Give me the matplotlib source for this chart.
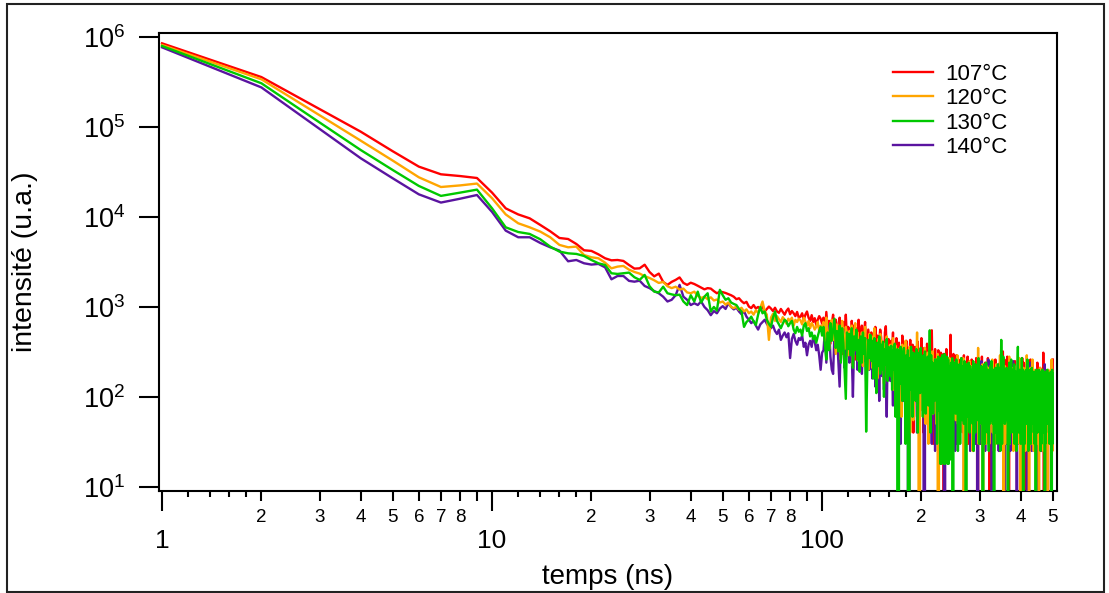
import numpy as np
import matplotlib
matplotlib.use("Agg")
import matplotlib.pyplot as plt
from matplotlib.ticker import FixedLocator, NullLocator, FuncFormatter, LogLocator, LogFormatterSciNotation
from matplotlib.patches import Rectangle

plt.rcParams['font.family'] = ['Liberation Sans', 'DejaVu Sans']
plt.rcParams['mathtext.fontset'] = 'custom'
plt.rcParams['mathtext.rm'] = 'Liberation Sans'
plt.rcParams['mathtext.it'] = 'Liberation Sans:italic'

# ---------------- data ----------------
temps_ns = np.arange(1, 501)
series_labels = ['107°C', '120°C', '130°C', '140°C']

i_107 = [
    857000, 361000, 159000, 89100, 54000, 36400, 29900, 28600, 27200, 18700,
    12500, 10700, 9680, 8170, 6950, 5850, 5700, 5020, 4270, 4200,
    3850, 3480, 3300, 3330, 3250, 2930, 2670, 2690, 2950, 2450,
    2190, 2350, 1900, 1760, 1900, 2000, 2130, 1850, 1760, 1860,
    1800, 1720, 1640, 1570, 1620, 1600, 1500, 1420, 1480, 1460,
    1430, 1390, 1350, 1300, 1220, 1250, 1160, 1100, 1140, 1010,
    970, 1050, 960, 1000, 940, 1020, 890, 950, 1010, 960,
    900, 980, 890, 860, 950, 880, 820, 905, 960, 830,
    900, 850, 790, 880, 760, 780, 850, 720, 820, 890,
    760, 700, 810, 680, 750, 630, 720, 790, 740, 650,
    760, 480, 880, 560, 700, 390, 660, 820, 450, 720,
    620, 380, 760, 540, 300, 680, 470, 820, 420, 600,
    540, 330, 700, 450, 620, 260, 580, 400, 720, 480,
    360, 620, 290, 520, 680, 380, 240, 560, 430, 330,
    520, 280, 450, 220, 600, 350, 480, 190, 410, 560,
    460, 240, 390, 170, 520, 610, 300, 210, 440, 350,
    230, 420, 290, 520, 150, 360, 250, 450, 120, 380,
    400, 180, 330, 110, 480, 230, 360, 90, 300, 420,
    170, 350, 70, 290, 430, 200, 120, 380, 40, 310,
    360, 150, 270, 60, 410, 190, 320, 100, 250, 450,
    130, 300, 40, 350, 220, 290, 80, 390, 240, 65,
    310, 120, 260, 60, 550, 180, 30, 300, 150, 340,
    100, 280, 65, 230, 330, 120, 260, 50, 310, 190,
    250, 70, 300, 0, 160, 280, 90, 340, 50, 210,
    270, 80, 230, 30, 490, 130, 240, 55, 200, 300,
    60, 250, 170, 40, 290, 110, 220, 65, 260, 150,
    240, 60, 190, 55, 270, 120, 210, 40, 290, 80,
    200, 0, 230, 70, 160, 280, 30, 180, 90, 250,
    50, 210, 65, 260, 110, 190, 25, 230, 140, 60,
    220, 80, 270, 30, 170, 0, 200, 100, 240, 40,
    180, 30, 230, 90, 280, 50, 190, 55, 140, 220,
    70, 240, 40, 170, 65, 220, 110, 270, 40, 160,
    210, 0, 130, 60, 230, 30, 180, 100, 55, 190,
    50, 220, 120, 65, 260, 80, 190, 55, 150, 60,
    180, 40, 230, 100, 25, 190, 60, 250, 65, 140,
    200, 50, 320, 65, 210, 80, 260, 30, 160, 55,
    110, 190, 40, 280, 65, 160, 70, 0, 200, 90,
    40, 180, 100, 240, 55, 150, 60, 220, 30, 170,
    190, 65, 120, 250, 60, 40, 160, 25, 180, 70,
    150, 40, 210, 55, 120, 230, 30, 160, 70, 65,
    170, 80, 55, 270, 60, 150, 30, 240, 100, 65,
    60, 190, 110, 0, 170, 40, 230, 80, 65, 150,
    200, 30, 100, 180, 25, 140, 50, 260, 70, 160,
    65, 150, 80, 230, 40, 120, 65, 180, 90, 40,
    160, 60, 190, 55, 110, 0, 150, 50, 240, 30,
    130, 180, 40, 100, 55, 170, 70, 210, 65, 80,
    150, 25, 100, 190, 50, 140, 65, 310, 70, 0,
    90, 170, 30, 200, 50, 120, 55, 150, 60, 180,
    40, 140, 25, 90, 190, 65, 110, 50, 170, 55,
    120, 190, 40, 150, 0, 80, 180, 30, 130, 260,
]

i_120 = [
    820000, 341000, 136000, 70800, 42500, 27700, 21600, 22500, 23600, 16200,
    10700, 8530, 7690, 6890, 5960, 4900, 4610, 4690, 3780, 3570,
    3480, 3110, 2690, 2810, 2860, 2600, 2450, 2350, 2200, 2100,
    1980, 1850, 1900, 1700, 1620, 1680, 1560, 1600, 1450, 1420,
    1480, 1330, 1260, 1300, 1220, 1280, 1180, 1210, 1120, 1150,
    1060, 1120, 1000, 970, 1010, 930, 980, 890, 940, 850,
    890, 820, 920, 860, 980, 1150, 900, 820, 430, 760,
    840, 700, 790, 730, 680, 770, 720, 650, 740, 700,
    760, 620, 720, 680, 740, 710, 640, 760, 690, 620,
    700, 580, 660, 620, 560, 600, 680, 540, 620, 580,
    680, 420, 760, 520, 340, 640, 720, 430, 580, 300,
    640, 380, 560, 260, 700, 450, 340, 600, 500, 290,
    540, 300, 620, 220, 480, 660, 330, 520, 250, 430,
    330, 520, 220, 460, 600, 280, 420, 200, 500, 370,
    470, 210, 400, 580, 240, 360, 160, 440, 300, 500,
    230, 420, 290, 140, 390, 250, 470, 170, 360, 280,
    380, 170, 320, 450, 120, 290, 370, 80, 330, 220,
    160, 350, 220, 60, 380, 260, 140, 330, 420, 110,
    320, 100, 250, 360, 40, 210, 140, 310, 55, 240,
    120, 300, 190, 520, 80, 260, 0, 200, 340, 130,
    280, 70, 240, 160, 350, 50, 220, 120, 310, 30,
    110, 270, 50, 240, 150, 320, 65, 200, 100, 260,
    240, 50, 190, 300, 0, 160, 90, 270, 30, 210,
    110, 250, 40, 200, 290, 70, 180, 55, 230, 120,
    220, 60, 270, 130, 65, 190, 250, 25, 110, 210,
    80, 240, 150, 55, 210, 110, 290, 50, 190, 90,
    200, 40, 160, 250, 65, 140, 70, 270, 0, 180,
    60, 220, 130, 30, 230, 90, 190, 55, 160, 250,
    170, 65, 130, 220, 50, 25, 200, 80, 150, 65,
    210, 60, 150, 55, 190, 80, 350, 30, 140, 50,
    140, 210, 65, 160, 60, 230, 0, 180, 80, 40,
    190, 50, 140, 30, 220, 70, 160, 65, 120, 210,
    30, 180, 90, 220, 55, 130, 50, 260, 40, 150,
    170, 25, 120, 200, 70, 30, 230, 90, 55, 180,
    50, 210, 65, 140, 80, 290, 55, 130, 40, 180,
    150, 65, 200, 70, 0, 170, 50, 220, 30, 130,
    210, 40, 130, 55, 180, 70, 65, 150, 280, 30,
    90, 190, 55, 130, 50, 210, 65, 160, 70, 25,
    170, 50, 220, 65, 100, 150, 65, 190, 40, 130,
    30, 200, 80, 160, 55, 270, 50, 140, 0, 170,
    100, 65, 190, 60, 30, 160, 70, 210, 65, 130,
    180, 40, 25, 200, 90, 30, 290, 55, 160, 70,
    65, 140, 190, 0, 80, 170, 40, 210, 55, 110,
    160, 30, 100, 260, 55, 60, 180, 25, 130, 40,
    90, 200, 55, 140, 50, 190, 65, 110, 160, 30,
    190, 65, 80, 0, 140, 60, 210, 55, 120, 50,
    40, 160, 60, 200, 30, 100, 25, 180, 50, 150,
    120, 55, 190, 70, 65, 150, 30, 170, 80, 55,
    160, 50, 0, 120, 200, 65, 90, 30, 160, 60,
    30, 180, 80, 55, 150, 260, 65, 120, 25, 190,
]

i_130 = [
    800000, 308000, 113000, 55700, 33400, 22200, 17200, 18700, 20200, 12500,
    7690, 6820, 6490, 5660, 4690, 4130, 3950, 3890, 3690, 3330,
    3060, 2930, 2370, 2330, 2370, 2410, 2140, 2000, 2270, 1700,
    1480, 1450, 1680, 1420, 1380, 1350, 1370, 1150, 1050, 1350,
    1150, 1480, 1120, 1300, 1420, 890, 1000, 910, 1550, 1350,
    1200, 1250, 1120, 1080, 1050, 950, 890, 600, 680, 720,
    780, 690, 630, 820, 1000, 850, 890, 720, 650, 600,
    760, 890, 700, 640, 580, 650, 720, 690, 610, 660,
    700, 560, 510, 600, 530, 560, 480, 620, 660, 540,
    580, 470, 520, 440, 480, 400, 470, 540, 600, 480,
    600, 380, 260, 520, 330, 660, 420, 560, 740, 350,
    540, 320, 620, 240, 580, 400, 200, 95, 520, 340,
    500, 290, 580, 210, 470, 330, 560, 260, 430, 190,
    470, 240, 520, 300, 450, 41, 180, 430, 270, 490,
    250, 420, 160, 450, 290, 110, 400, 220, 470, 180,
    380, 200, 410, 100, 340, 230, 440, 150, 360, 210,
    170, 370, 120, 330, 200, 390, 60, 300, 340, 0,
    330, 140, 360, 190, 90, 310, 350, 160, 30, 290,
    140, 330, 0, 270, 120, 360, 180, 60, 310, 150,
    290, 90, 340, 140, 40, 270, 310, 110, 350, 130,
    260, 60, 290, 130, 320, 65, 250, 110, 280, 80,
    120, 550, 40, 290, 70, 240, 65, 230, 90, 260,
    100, 260, 30, 230, 280, 70, 240, 18, 270, 18,
    290, 19, 250, 18, 300, 18, 230, 19, 280, 18,
    260, 18, 220, 20, 100, 240, 60, 270, 0, 220,
    80, 240, 110, 65, 260, 90, 230, 25, 200, 60,
    230, 30, 190, 270, 70, 55, 220, 100, 50, 250,
    80, 210, 0, 230, 60, 180, 65, 240, 90, 40,
    220, 70, 190, 55, 200, 50, 250, 25, 90, 200,
    40, 230, 70, 180, 55, 210, 60, 270, 30, 170,
    200, 55, 90, 220, 50, 160, 0, 210, 70, 230,
    30, 190, 60, 240, 65, 180, 40, 200, 80, 25,
    190, 50, 220, 65, 160, 250, 55, 170, 50, 200,
    70, 0, 190, 40, 210, 60, 55, 200, 90, 30,
    230, 50, 170, 65, 210, 70, 25, 190, 430, 220,
    30, 180, 60, 280, 55, 160, 200, 50, 55, 190,
    70, 210, 65, 170, 50, 0, 200, 60, 240, 30,
    180, 55, 160, 260, 40, 150, 55, 200, 50, 190,
    60, 230, 30, 160, 55, 190, 50, 25, 170, 70,
    210, 360, 70, 190, 40, 55, 200, 60, 160, 30,
    180, 50, 270, 55, 150, 200, 0, 160, 40, 190,
    30, 170, 60, 55, 200, 50, 160, 65, 260, 70,
    160, 25, 190, 40, 150, 55, 200, 60, 30, 170,
    50, 210, 65, 160, 70, 55, 190, 40, 150, 30,
    190, 50, 160, 0, 60, 200, 65, 150, 40, 180,
    55, 160, 50, 200, 55, 150, 40, 190, 25, 140,
    180, 30, 150, 55, 200, 50, 160, 55, 60, 190,
    40, 170, 0, 150, 30, 190, 60, 55, 180, 50,
    200, 65, 150, 50, 55, 180, 40, 160, 30, 140,
    150, 55, 190, 50, 160, 0, 60, 200, 30, 180,
]

i_140 = [
    773000, 277000, 95700, 45100, 27000, 17900, 14500, 16000, 17600, 11400,
    7060, 5960, 5960, 5150, 4610, 4240, 3220, 3330, 3060, 2960,
    3010, 2760, 2030, 2210, 2210, 1950, 1910, 1960, 1710, 1620,
    1500, 1420, 1300, 1150, 1200, 1350, 1760, 1300, 1200, 1050,
    1100, 1050, 1150, 1000, 920, 810, 900, 850, 960, 1020,
    950, 1100, 1000, 940, 980, 890, 830, 900, 780, 720,
    660, 700, 620, 560, 640, 680, 720, 650, 600, 580,
    620, 540, 500, 560, 430, 480, 520, 460, 510, 270,
    440, 500, 420, 380, 450, 430, 480, 360, 400, 290,
    380, 420, 360, 470, 410, 330, 380, 290, 200, 310,
    330, 560, 240, 450, 620, 280, 200, 180, 520, 390,
    480, 250, 130, 440, 330, 540, 210, 420, 290, 470,
    240, 450, 300, 100, 410, 300, 500, 200, 380, 260,
    430, 180, 360, 250, 450, 150, 330, 400, 200, 310,
    380, 160, 280, 400, 130, 350, 210, 310, 90, 360,
    330, 170, 370, 120, 300, 200, 60, 320, 220, 350,
    150, 310, 210, 80, 330, 170, 270, 130, 320, 190,
    300, 120, 30, 260, 160, 320, 90, 280, 150, 240,
    130, 270, 0, 240, 140, 310, 60, 250, 170, 100,
    270, 90, 230, 40, 260, 140, 290, 70, 210, 250,
    110, 250, 140, 0, 230, 90, 270, 120, 50, 240,
    220, 70, 250, 120, 30, 210, 260, 90, 190, 25,
    230, 100, 60, 240, 130, 65, 210, 90, 250, 110,
    80, 220, 40, 190, 0, 120, 230, 70, 180, 65,
    210, 90, 240, 50, 170, 55, 190, 80, 220, 100,
    60, 200, 25, 170, 80, 220, 30, 160, 210, 70,
    190, 40, 160, 55, 200, 80, 170, 50, 230, 0,
    150, 200, 40, 160, 70, 210, 65, 170, 60, 140,
    25, 180, 70, 200, 40, 150, 55, 190, 60, 160,
    140, 30, 190, 60, 210, 0, 150, 50, 180, 70,
    30, 170, 60, 250, 55, 150, 70, 180, 40, 140,
    170, 25, 130, 50, 190, 65, 150, 60, 260, 30,
    70, 180, 65, 150, 50, 200, 0, 140, 170, 40,
    160, 30, 190, 60, 55, 170, 70, 40, 180, 65,
    140, 50, 25, 170, 60, 240, 30, 130, 55, 160,
    60, 180, 40, 150, 65, 200, 50, 0, 160, 70,
    30, 170, 70, 55, 180, 50, 150, 65, 190, 60,
    160, 25, 130, 40, 180, 65, 150, 60, 250, 30,
    70, 170, 55, 150, 50, 190, 65, 130, 0, 160,
    40, 150, 180, 65, 130, 30, 170, 55, 60, 160,
    150, 65, 120, 180, 25, 140, 40, 160, 55, 170,
    50, 150, 55, 130, 230, 30, 140, 0, 160, 40,
    170, 65, 140, 50, 55, 160, 40, 240, 60, 65,
    140, 25, 160, 30, 130, 180, 55, 150, 40, 60,
    160, 30, 55, 140, 50, 170, 65, 130, 0, 150,
    40, 180, 55, 140, 60, 55, 160, 30, 150, 50,
    65, 150, 50, 25, 170, 40, 140, 55, 160, 60,
    140, 30, 230, 55, 50, 150, 0, 130, 160, 65,
    150, 40, 55, 170, 60, 30, 140, 55, 50, 160,
    60, 170, 65, 140, 0, 150, 40, 160, 55, 130,
]

x_major_ticks = [1, 10, 100]
x_labeled_minor = [2, 3, 4, 5, 6, 7, 8, 20, 30, 40, 50, 60, 70, 80, 200, 300, 400, 500]
x_unlabeled_minor = [9, 90]
x_small_ticks = [1.2, 1.4, 1.6, 1.8, 12, 14, 16, 18, 120, 140, 160, 180]

colors = ['#FF0000', '#FFA500', '#00C800', '#5A14A0']
draw_order = [0, 3, 1, 2]   # green drawn last (on top)

# ---------------- figure ----------------
W, H = 1109, 593
fig = plt.figure(figsize=(W / 100, H / 100), dpi=100)
L, R, T, B = 159, 1057, 32.7, 491
ax = fig.add_axes([L / W, 1 - B / H, (R - L) / W, (B - T) / H])

data = [i_107, i_120, i_130, i_140]
lines = {}
for z, k in enumerate(draw_order):
    y = np.asarray(data[k], dtype=float)
    ln, = ax.plot(temps_ns, y, color=colors[k], lw=1.7, label=series_labels[k],
                  zorder=2 + z)
    lines[k] = ln

ax.set_xscale('log')
ax.set_yscale('log', nonpositive='clip')
ax.set_xlim(0.979, 515)
ax.set_ylim(8.96, 1.125e6)

# x ticks
ax.xaxis.set_major_locator(FixedLocator(x_major_ticks))
ax.xaxis.set_major_formatter(FuncFormatter(lambda v, p: f"{v:g}"))
minor_all = sorted(x_labeled_minor + x_unlabeled_minor)
ax.xaxis.set_minor_locator(FixedLocator(minor_all))
ax.xaxis.set_minor_formatter(FuncFormatter(
    lambda v, p: (f"{v:g}"[0] if v in x_labeled_minor else "")))
ax.tick_params(axis='x', which='major', direction='out', length=14.4, width=1.5,
               labelsize=19, pad=13)
ax.tick_params(axis='x', which='minor', direction='out', length=7.2, width=1.5,
               labelsize=13.5, pad=5.5)

# y ticks
ax.yaxis.set_major_locator(LogLocator(base=10, numticks=10))
ax.yaxis.set_major_formatter(LogFormatterSciNotation())
ax.yaxis.set_minor_locator(NullLocator())
ax.tick_params(axis='y', which='major', direction='out', length=14.4, width=1.5,
               labelsize=19.5, pad=10)

for s in ax.spines.values():
    s.set_linewidth(1.5)

# third level of short x ticks
ax3 = ax.twiny()
ax3.set_xscale('log')
ax3.set_xlim(ax.get_xlim())
ax3.xaxis.set_ticks_position('bottom')
ax3.xaxis.set_major_locator(FixedLocator(x_small_ticks))
ax3.xaxis.set_minor_locator(NullLocator())
ax3.xaxis.set_major_formatter(FuncFormatter(lambda v, p: ""))
ax3.tick_params(axis='x', which='major', direction='out', length=4.3, width=1.5)
for s in ax3.spines.values():
    s.set_visible(False)

# axis labels
ax.set_xlabel('temps (ns)', fontsize=20)
ax.set_ylabel('intensité (u.a.)', fontsize=20.5)
ax.xaxis.label.set_va('center')
ax.yaxis.label.set_va('center')
ax.xaxis.set_label_coords(0.5, (B - 577) / (B - T))
ax.yaxis.set_label_coords((25 - L) / (R - L), 0.5)

# legend
handles = [lines[k] for k in range(4)]
leg = ax.legend(handles, series_labels, loc='upper left',
                bbox_to_anchor=(893 / W, 1 - 63.5 / H), bbox_transform=fig.transFigure,
                frameon=False, fontsize=16, handlelength=1.8, handletextpad=0.55,
                labelspacing=0.16, borderpad=0, borderaxespad=0)

# outer frame
fig.patches.append(Rectangle((6.5 / W, 1 - 591.5 / H), (1104 - 6.5) / W, (591.5 - 4) / H,
                             transform=fig.transFigure, fill=False, lw=1.5,
                             edgecolor='#222222'))

fig.savefig('out.png', dpi=100)
